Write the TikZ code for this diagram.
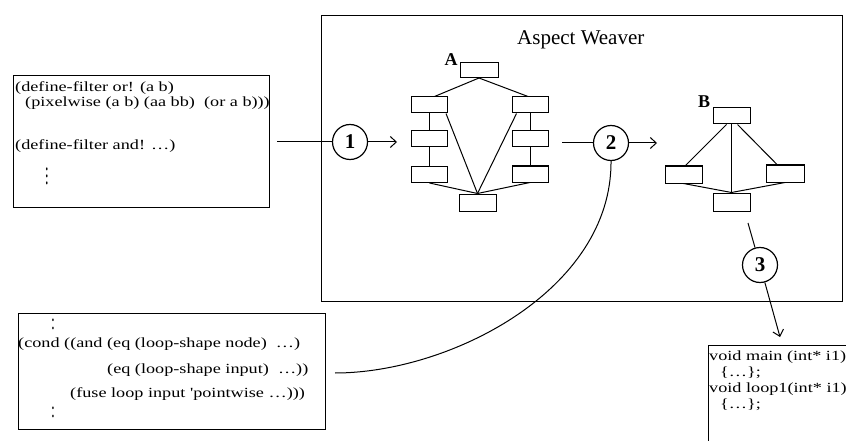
\documentclass[tikz,border=0pt]{standalone}
\usepackage{fontspec}
\setmainfont{Liberation Serif}
\usetikzlibrary{arrows.meta,calc}
\newcommand\codeln[1]{\scalebox{1.3}[1]{#1}}
\tikzset{
  frame/.style={draw, line width=1.4pt, inner sep=0pt, anchor=north west},
  blk/.style={draw, line width=1pt, minimum width=36pt, minimum height=16pt, inner sep=0pt},
  edge/.style={line width=1pt},
  num/.style={circle, draw, line width=1.2pt, minimum size=35pt, inner sep=0pt, font=\fontsize{21}{24}\selectfont\bfseries},
  code/.style={anchor=west, inner sep=0pt, font=\fontsize{14}{16}\selectfont},
  lbl/.style={inner sep=0pt, font=\fontsize{18}{20}\selectfont\bfseries},
  arr/.style={line width=1pt, -{Straight Barb[length=6pt,width=11pt,line width=1pt]}},
}
\begin{document}
\begin{tikzpicture}[x=1pt,y=-1pt]
\useasboundingbox (0,0) rectangle (846,441);
\clip (0,0) rectangle (846,441);
\fill[white] (0,0) rectangle (846,441);

% boxes
\node[frame, minimum width=521pt, minimum height=286pt] (weaver) at (321,15) {};
\node[anchor=base west, inner sep=0pt, font=\fontsize{21}{24}\selectfont] (title) at (517,45) {Aspect Weaver};
\node[frame, minimum width=256pt, minimum height=132pt] (src) at (13,75) {};
\node[frame, minimum width=307pt, minimum height=116pt] (rules) at (18,313) {};
\node[frame, minimum width=170pt, minimum height=130pt] (out) at (708,345) {};

% source code
\node[code] (s1t) at (15,88) {\codeln{(define-filter or! (a b)}};
\node[code] (s2t) at (25,103) {\codeln{(pixelwise (a b) (aa bb)\ \ (or a b)))}};
\node[code] (s3t) at (15,146) {\codeln{(define-filter and! …)}};
\node[code] (s4t) at (45,171) {\scalebox{1}[1.8]{$\vdots$}};

% rules code
\node[code] (r0t) at (51,324) {\scalebox{1}[1.6]{:}};
\node[code] (r1t) at (18,344) {\codeln{(cond ((and (eq (loop-shape node)\ \ …)}};
\node[code] (r2t) at (107,370) {\codeln{(eq (loop-shape input)\ \ …))}};
\node[code] (r3t) at (70,394) {\codeln{(fuse loop input \textquotesingle pointwise …)))}};
\node[code] (r4t) at (51,412) {\scalebox{1}[1.6]{:}};

% output code
\node[code] (o1t) at (709,357) {\codeln{void main (int* i1)}};
\node[code] (o2t) at (720,373) {\codeln{\{…\};}};
\node[code] (o3t) at (709,389) {\codeln{void loop1(int* i1)}};
\node[code] (o4t) at (720,405) {\codeln{\{…\};}};

% graph A
\node[blk, minimum width=38pt, minimum height=15pt] (a0) at (479,70) {};
\node[blk] (a1) at (429.5,105) {};
\node[blk] (a2) at (429.5,139) {};
\node[blk] (a3) at (429.5,174.5) {};
\node[blk] (a4) at (530,105) {};
\node[blk] (a5) at (530,139) {};
\node[blk] (a6) at (530,174) {};
\node[blk, minimum width=37pt, minimum height=17pt] (a7) at (477.5,202.5) {};
\node[lbl] (la) at (451,60) {A};
\draw[edge] (a0.south) -- ([xshift=5pt]a1.north);
\draw[edge] (a0.south) -- ([xshift=-2pt]a4.north);
\draw[edge] (a1) -- (a2);
\draw[edge] (a2) -- (a3);
\draw[edge] (a4) -- (a5);
\draw[edge] (a5) -- (a6);
\draw[edge] ([xshift=-2pt]a1.south east) -- (a7.north);
\draw[edge] ([xshift=5pt]a4.south west) -- (a7.north);
\draw[edge] (a3.south) -- (a7.north);
\draw[edge] (a6.south) -- (a7.north);

% graph B
\node[blk, minimum width=37pt] (b0) at (731.5,116) {};
\node[blk, minimum width=37pt, minimum height=17pt] (b1) at (683.5,174.5) {};
\node[blk, minimum width=38pt, minimum height=17pt] (b2) at (785,173.5) {};
\node[blk, minimum width=37pt, minimum height=18pt] (b3) at (731.5,202) {};
\node[lbl] (lb) at (704,102) {B};
\draw[edge] ([xshift=-5pt]b0.south) -- ([xshift=2pt]b1.north);
\draw[edge] ([xshift=6pt]b0.south) -- ([xshift=-8pt]b2.north);
\draw[edge] (b0) -- (b3);
\draw[edge] (b1.south) -- (b3.north);
\draw[edge] (b2.south) -- (b3.north);

% steps
\node[num] (c1) at (350,142) {1};
\node[num] (c2) at (611,143) {2};
\node[num] (c3) at (760,265) {3};
\coordinate (p1) at (277,142);
\coordinate (q1) at (397,142);
\coordinate (p2) at (562,143);
\coordinate (q2) at (657,143);
\coordinate (q3) at (335,373);
\coordinate (p4) at (748,223);
\coordinate (q4) at (780,337);
\draw[edge] (p1) -- (c1);
\draw[arr] (c1) -- (q1);
\draw[edge] (p2) -- (c2);
\draw[arr] (c2) -- (q2);
\draw[edge] (c2.south) .. controls (612,290) and (450,373) .. (q3);
\draw[edge] (p4) -- (c3);
\draw[arr] (c3) -- (q4);
\end{tikzpicture}
\end{document}
